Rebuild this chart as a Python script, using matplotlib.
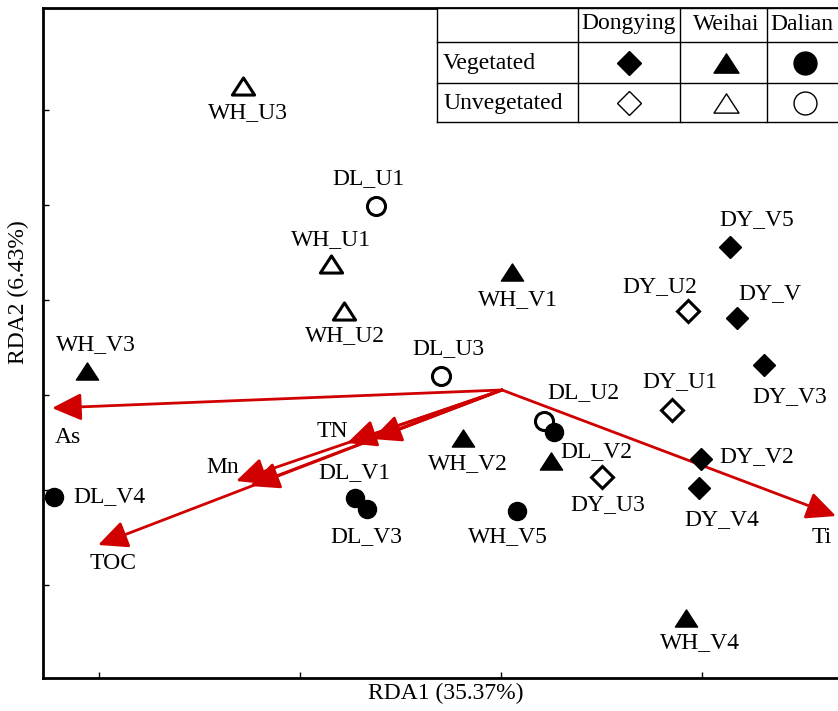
import numpy as np
import matplotlib
matplotlib.use('Agg')
import matplotlib.pyplot as plt
from matplotlib.patches import Rectangle
from matplotlib.path import Path

plt.rcParams['font.family'] = ['Liberation Serif', 'DejaVu Serif']

# sample scores (RDA1, RDA2)
names = ['WH_U3', 'DL_U1', 'WH_U1', 'WH_U2', 'WH_V1', 'DY_V5', 'DY_U2', 'DY_V',
         'DY_V3', 'DY_U1', 'DY_V2', 'DY_V4', 'DY_U3', 'WH_V3', 'DL_U3', 'DL_U2',
         '', 'DL_V2', 'WH_V2', 'DL_V1', 'DL_V3', 'WH_V5', 'DL_V4', 'WH_V4']
site = ['WH', 'DL', 'WH', 'WH', 'WH', 'DY', 'DY', 'DY',
        'DY', 'DY', 'DY', 'DY', 'DY', 'WH', 'DL', 'DL',
        'DL', 'WH', 'WH', 'DL', 'DL', 'DL', 'DL', 'WH']
veg = ['U', 'U', 'U', 'U', 'V', 'V', 'U', 'V',
       'V', 'U', 'V', 'V', 'U', 'V', 'U', 'U',
       'V', 'V', 'V', 'V', 'V', 'V', 'V', 'V']
rda1 = [-1.284, -0.622, -0.846, -0.781, 0.055, 1.139, 0.930, 1.174,
        1.308, 0.851, 0.995, 0.985, 0.502, -2.060, -0.299, 0.214,
        0.264, 0.249, -0.189, -0.726, -0.667, 0.080, -2.224, 0.920]
rda2 = [3.253, 1.989, 1.379, 0.884, 1.295, 1.558, 0.884, 0.811,
        0.316, -0.158, -0.674, -0.979, -0.863, 0.253, 0.200, -0.274,
        -0.389, -0.695, -0.453, -1.084, -1.200, -1.221, -1.074, -2.347]

# environmental vectors
env_names = ['As', 'TN', '', 'Mn', '', 'TOC', 'Ti']
env_x = [-2.234, -0.766, -0.642, -1.318, -1.249, -2.005, 1.667]
env_y = [-0.137, -0.505, -0.463, -0.905, -0.958, -1.579, -1.274]
origin = (0.005, 0.053)

# label offsets in pixels (dx, dy)
lab_off = [(5, -27), (-8, 28), (0, 24), (1, -25), (6, -28), (27, 27), (-28, 24), (33, 24),
           (26, -32), (8, 28), (56, 2), (23, -32), (6, -28), (9, 26), (8, 27), (39, 28),
           (0, 0), (45, 9), (5, -26), (-1, 25), (-1, -28), (-9, -26), (55, 0), (14, -25)]
env_off = [(16, -29), (-15, 11), (0, 0), (-13, 13), (0, 0), (15, -18), (-14, -21)]

tri = Path([(0, 0.77), (-1, -0.77), (1, -0.77), (0, 0.77)],
           [Path.MOVETO, Path.LINETO, Path.LINETO, Path.CLOSEPOLY])
mk = {'DY': 'D', 'WH': tri, 'DL': 'o'}
ms = {'DY': 11.5, 'WH': 16, 'DL': 13}
red = '#d00000'
fs = 17

fig = plt.figure(figsize=(8.38, 7.11), dpi=100)
ax = fig.add_axes([43 / 838, 33 / 711, 795 / 838, 670 / 711])

# arrows
for n, ex, ey, off in zip(env_names, env_x, env_y, env_off):
    ax.annotate('', xy=(ex, ey), xytext=origin,
                arrowprops=dict(arrowstyle='-|>,head_length=0.9,head_width=0.42',
                                mutation_scale=20, lw=2.0, color=red,
                                shrinkA=0, shrinkB=0), zorder=2)
    if n:
        ax.annotate(n, (ex, ey), xytext=off, textcoords='offset pixels',
                    ha='center', va='center', fontsize=fs, zorder=4)

# samples
for n, s, v, x, y, off in zip(names, site, veg, rda1, rda2, lab_off):
    face = 'black' if v == 'V' else 'white'
    ax.plot(x, y, marker=mk[s], ms=ms[s], mfc=face, mec='black',
            mew=1 if v == 'V' else 2.2, ls='none', zorder=3)
    if n:
        ax.annotate(n, (x, y), xytext=off, textcoords='offset pixels',
                    ha='center', va='center', fontsize=fs, zorder=4)

ax.set_xlim(-2.279, 1.677)
ax.set_ylim(-2.979, 4.074)
ax.set_xticks([-2, -1, 0, 1])
ax.set_yticks([-2, -1, 0, 1, 2, 3])
ax.tick_params(direction='in', length=4, width=1, labelleft=False, labelbottom=False)
ax.spines['right'].set_visible(False)
for sp in ['left', 'bottom', 'top']:
    ax.spines[sp].set_linewidth(2)

ax.set_xlabel('RDA1 (35.37%)', fontsize=fs)
ax.set_ylabel('RDA2 (6.43%)', fontsize=fs)
ax.xaxis.set_label_coords(0.507, -0.008)
ax.yaxis.set_label_coords(-0.017, 0.576)

# legend table (pixel layout converted to axes fraction)
def fx(px):
    return (px - 43) / 795

def fy(py):
    return (678 - py) / 670

cols = [437, 578, 680, 767, 860]
rows = [8, 42, 83, 122]
ax.add_patch(Rectangle((fx(437), fy(122)), fx(860) - fx(437), fy(8) - fy(122),
                       transform=ax.transAxes, fc='white', ec='none',
                       clip_on=False, zorder=5))
for c in cols:
    ax.plot([fx(c), fx(c)], [fy(8), fy(122)], color='black', lw=1,
            transform=ax.transAxes, clip_on=False, zorder=6)
for r in rows:
    ax.plot([fx(437), fx(860)], [fy(r), fy(r)], color='black', lw=1,
            transform=ax.transAxes, clip_on=False, zorder=6)

sites = ['Dongying', 'Weihai', 'Dalian']
site_codes = ['DY', 'WH', 'DL']
col_cx = [629, 726, 802]
tab_ms = {'DY': 12.7, 'WH': 18, 'DL': 16.5}
for t, cx in zip(sites, col_cx):
    ax.text(fx(cx), fy(24), t, transform=ax.transAxes, ha='center', va='center',
            fontsize=fs, zorder=7)
for t, ry, v in zip(['Vegetated', 'Unvegetated'], [63, 103], ['V', 'U']):
    ax.text(fx(443), fy(ry), t, transform=ax.transAxes, ha='left', va='center',
            fontsize=fs, zorder=7)
    for sc, cx in zip(site_codes, col_cx[:2] + [805]):
        ax.plot(fx(cx), fy(ry), marker=mk[sc], ms=tab_ms[sc],
                mfc='black' if v == 'V' else 'white', mec='black',
                mew=1, ls='none', transform=ax.transAxes, clip_on=False, zorder=7)

fig.savefig('out.png', dpi=100)
